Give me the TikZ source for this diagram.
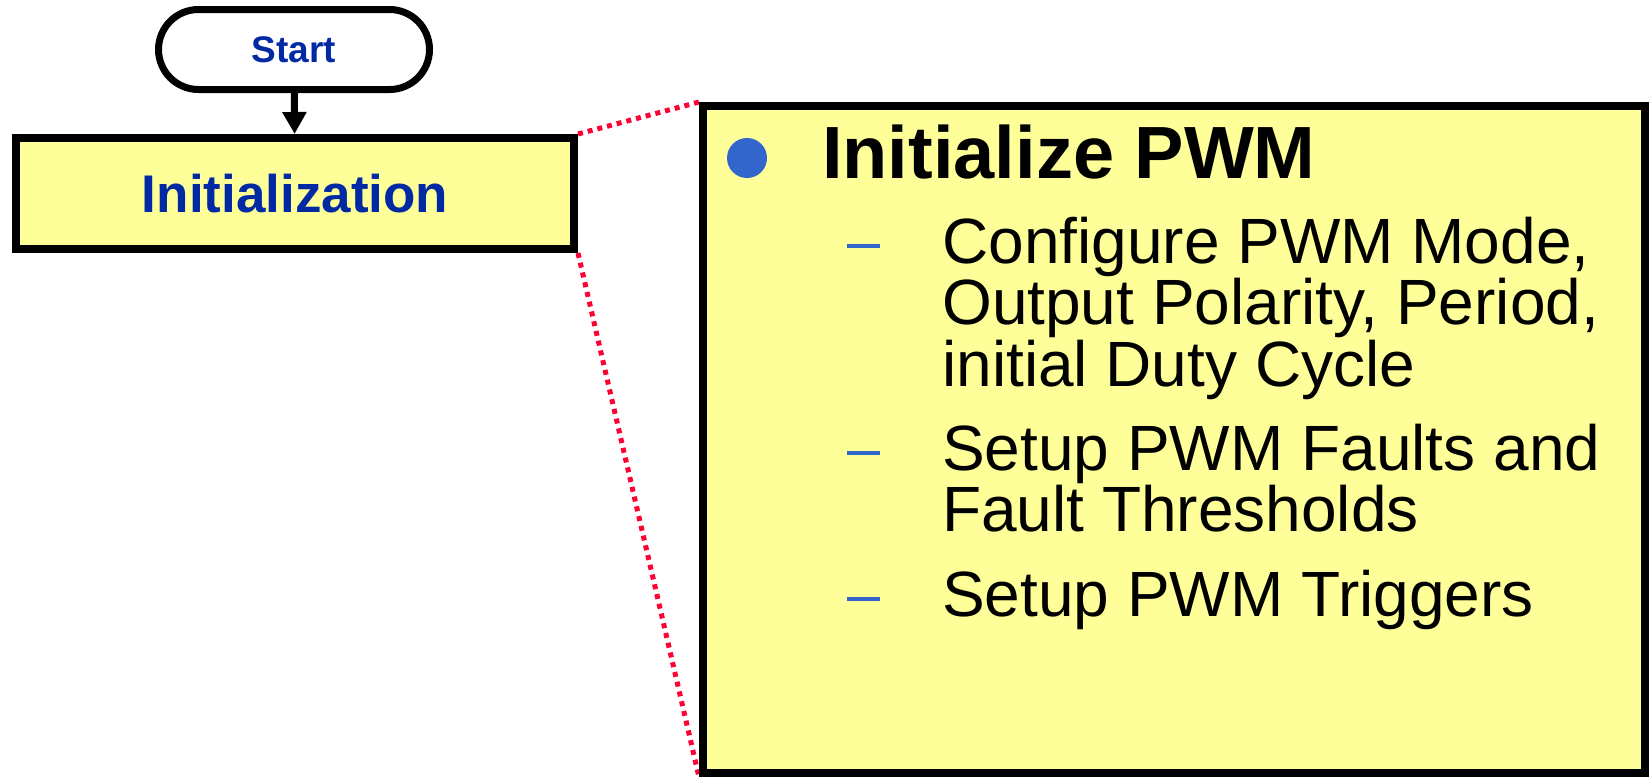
\documentclass[tikz,border=0pt]{standalone}
\usepackage{fontspec}
\setmainfont{Liberation Sans}
\usetikzlibrary{arrows.meta,backgrounds}
\definecolor{boxfill}{RGB}{255,255,153}
\definecolor{labelblue}{RGB}{0,41,163}
\definecolor{bulletblue}{RGB}{51,102,204}
\definecolor{zoomred}{RGB}{255,0,51}

\begin{document}
\begin{tikzpicture}[x=1pt,y=-1pt,
  terminal/.style={draw=black,line width=7pt,rounded corners=40pt,fill=white,
    minimum width=271pt,minimum height=80pt,inner sep=0pt,
    font=\fontsize{37}{40}\selectfont\bfseries,text=labelblue},
  process/.style={draw=black,line width=8pt,fill=boxfill,
    minimum width=558pt,minimum height=111pt,inner sep=0pt,
    font=\fontsize{53}{56}\selectfont\bfseries,text=labelblue},
  detailbox/.style={draw=black,line width=8pt,fill=boxfill,
    minimum width=942pt,minimum height=667pt,inner sep=0pt},
  flow/.style={line width=7pt,-{Triangle[width=23pt,length=22pt]}},
  zoomline/.style={draw=zoomred,line width=5pt,dash pattern=on 5pt off 5pt},
  heading/.style={anchor=base west,inner sep=0pt,font=\fontsize{74}{74}\selectfont\bfseries},
  subline/.style={anchor=base west,inner sep=0pt,font=\fontsize{64}{61}\selectfont},
  subdash/.style={fill=bulletblue,minimum width=33pt,minimum height=4pt,inner sep=0pt},
  dot/.style={circle,fill=bulletblue,minimum size=40pt,inner sep=0pt}
]
\useasboundingbox (0,0) rectangle (1649,777);

% flowchart
\node[terminal] (start) at (294,49.5) {Start};
\node[process] (init) at (295,193.5) {Initialization};
\draw[flow] (start) -- (init);

% detail panel
\node[detailbox] (detail) at (1174,439.5) {};

% zoom lines behind the boxes
\begin{pgfonlayer}{background}
  \draw[zoomline] (init.north east) -- (detail.north west);
  \draw[zoomline] (init.south east) -- (detail.south west);
\end{pgfonlayer}

% bullet list
\node[dot] (bullet) at (747,158) {};
\node[heading] (head) at (822,178) {Initialize PWM};

\node[subdash] (d1) at (863.5,246) {};
\node[subline] (l1) at (942,263) {Configure PWM Mode,};
\node[subline] (l2) at (942,324.5) {Output Polarity, Period,};
\node[subline] (l3) at (942,386) {initial Duty Cycle};

\node[subdash] (d2) at (863.5,453) {};
\node[subline] (l4) at (942,470) {Setup PWM Faults and};
\node[subline] (l5) at (942,531.5) {Fault Thresholds};

\node[subdash] (d3) at (863.5,599) {};
\node[subline] (l6) at (942,616) {Setup PWM Triggers};
\end{tikzpicture}
\end{document}
